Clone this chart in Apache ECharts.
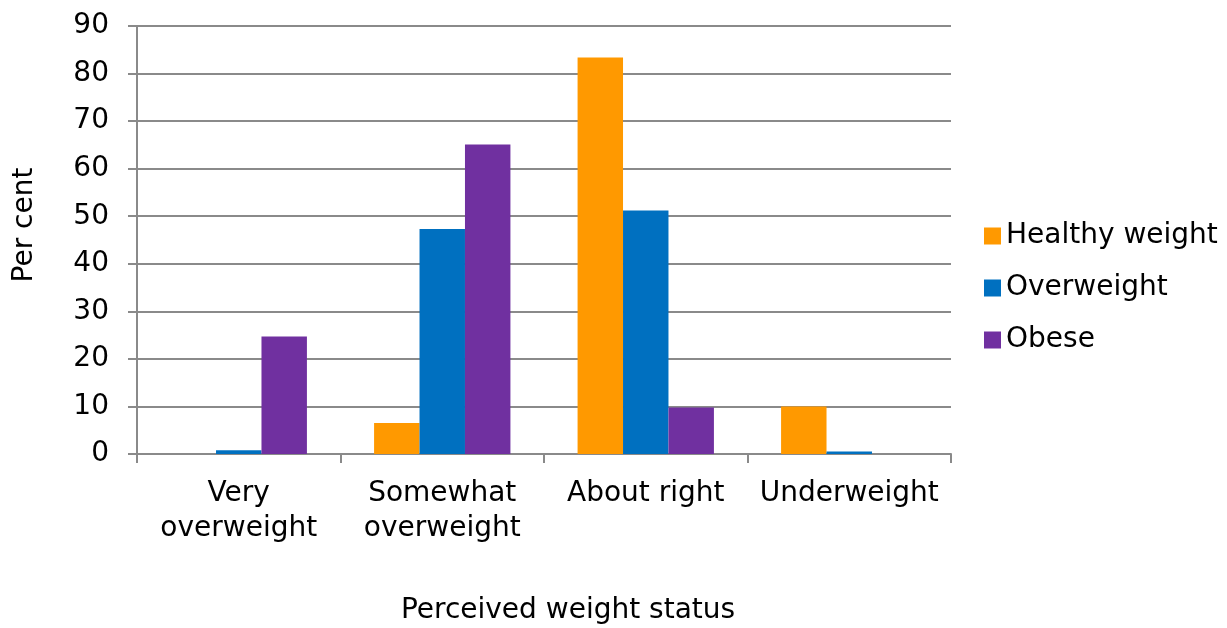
<!DOCTYPE html>
<html>
<head>
<meta charset="utf-8">
<script src="https://cdn.jsdelivr.net/npm/echarts@6/dist/echarts.min.js"></script>
<style>
  html, body { margin: 0; padding: 0; background: #fff; }
  #chart { width: 1227px; height: 628px; }
</style>
</head>
<body>
<div id="chart"></div>
<script>
// Perceived weight status by measured weight category (per cent)
const categories = ['Very\noverweight', 'Somewhat\noverweight', 'About right', 'Underweight'];
const healthyWeight = [0, 6.5, 83.4, 10.0];
const overweight = [0.8, 47.3, 51.2, 0.5];
const obese = [24.7, 65.1, 9.8, 0];
const yTicks = { min: 0, max: 90, interval: 10 };

const FONT = '"DejaVu Sans", "Liberation Sans", Arial, sans-serif';
const FONT_SIZE = 28;
const GRID_GRAY = '#8a8a8a';

const chart = echarts.init(document.getElementById('chart'), null, { renderer: 'canvas' });

function barSeries(name, data, color) {
  return {
    name: name,
    type: 'bar',
    data: data,
    barGap: '0%',
    barCategoryGap: '33%',
    itemStyle: { color: color },
    emphasis: { disabled: true }
  };
}

chart.setOption({
  animation: false,
  textStyle: { fontFamily: FONT },
  grid: { left: 137, right: 276, top: 26, bottom: 174, containLabel: false, outerBoundsMode: 'none' },
  legend: {
    orient: 'vertical',
    left: 984,
    top: 222,
    padding: 0,
    itemWidth: 17,
    itemHeight: 17,
    itemGap: 24,
    icon: 'rect',
    textStyle: { fontSize: FONT_SIZE, color: '#000', fontFamily: FONT },
    data: ['Healthy weight', 'Overweight', 'Obese']
  },
  xAxis: {
    type: 'category',
    data: categories,
    name: 'Perceived weight status',
    nameLocation: 'middle',
    nameGap: 143,
    nameTextStyle: { fontSize: FONT_SIZE, color: '#000', fontFamily: FONT, padding: [0, 0, 0, 48] },
    axisLine: { lineStyle: { color: GRID_GRAY, width: 2 } },
    axisTick: { show: true, interval: 0, length: 9, alignWithLabel: false, lineStyle: { color: GRID_GRAY, width: 2 } },
    axisLabel: { interval: 0, fontSize: FONT_SIZE, color: '#000', lineHeight: 35, margin: 22, fontFamily: FONT }
  },
  yAxis: {
    type: 'value',
    min: yTicks.min,
    max: yTicks.max,
    interval: yTicks.interval,
    name: 'Per cent',
    nameLocation: 'middle',
    nameGap: 98,
    nameRotate: 90,
    nameTextStyle: { fontSize: FONT_SIZE, color: '#000', fontFamily: FONT, padding: [0, 0, 0, 30] },
    axisLine: { show: true, lineStyle: { color: GRID_GRAY, width: 2 } },
    axisTick: { show: true, length: 9, lineStyle: { color: GRID_GRAY, width: 2 } },
    axisLabel: { fontSize: FONT_SIZE, color: '#000', margin: 28, fontFamily: FONT },
    splitLine: { show: true, lineStyle: { color: GRID_GRAY, width: 2 } }
  },
  series: [
    barSeries('Healthy weight', healthyWeight, '#FF9900'),
    barSeries('Overweight', overweight, '#0070C0'),
    barSeries('Obese', obese, '#7030A0')
  ]
});
</script>
</body>
</html>
